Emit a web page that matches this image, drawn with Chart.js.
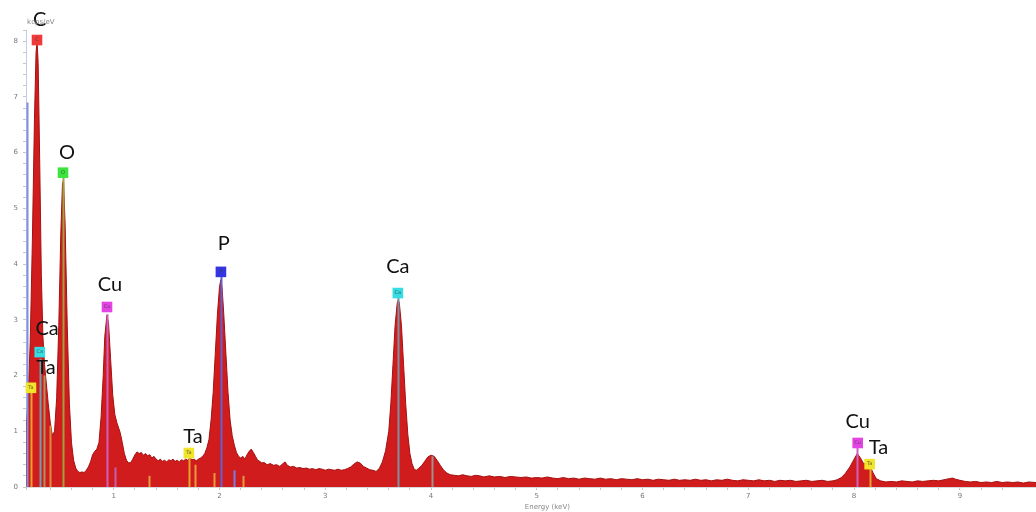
<!DOCTYPE html>
<html>
<head>
<meta charset="utf-8">
<script src="https://cdn.jsdelivr.net/npm/chart.js@4/dist/chart.umd.min.js"></script>
<style>
  html, body { margin: 0; padding: 0; background: #fff; overflow: hidden; }
  #wrap { width: 1036px; height: 512px; position: relative; }
</style>
</head>
<body>
<div id="wrap"><canvas id="eds"></canvas></div>
<script>
// spectrum (keV, kcps/eV)
const energy = [
  0.17, 0.19, 0.21, 0.23, 0.25, 0.265, 0.275, 0.285, 0.30, 0.315, 0.33, 0.345, 0.36, 0.38, 0.40, 0.42, 0.44, 0.46, 0.48, 0.50,
  0.515, 0.525, 0.54, 0.56, 0.58, 0.60, 0.62, 0.64, 0.66, 0.68, 0.70, 0.72, 0.74, 0.76, 0.78, 0.80, 0.82, 0.84, 0.86, 0.88,
  0.90, 0.915, 0.935, 0.95, 0.97, 0.99, 1.01, 1.03, 1.06, 1.08, 1.10, 1.12, 1.14, 1.16, 1.18, 1.20, 1.22, 1.24, 1.26, 1.28,
  1.30, 1.32, 1.34, 1.36, 1.38, 1.40, 1.42, 1.44, 1.46, 1.48, 1.50, 1.52, 1.54, 1.56, 1.58, 1.60, 1.62, 1.64, 1.66, 1.68,
  1.70, 1.72, 1.74, 1.76, 1.78, 1.80, 1.82, 1.84, 1.86, 1.88, 1.90, 1.92, 1.94, 1.96, 1.98, 2.00, 2.013, 2.025, 2.04, 2.06,
  2.08, 2.10, 2.12, 2.14, 2.16, 2.18, 2.20, 2.22, 2.24, 2.26, 2.28, 2.30, 2.32, 2.34, 2.36, 2.38, 2.40, 2.42, 2.45, 2.48,
  2.51, 2.54, 2.57, 2.60, 2.62, 2.64, 2.67, 2.70, 2.73, 2.76, 2.79, 2.82, 2.85, 2.88, 2.91, 2.94, 2.97, 3.00, 3.03, 3.06,
  3.09, 3.12, 3.15, 3.18, 3.21, 3.24, 3.27, 3.30, 3.33, 3.36, 3.39, 3.42, 3.45, 3.48, 3.51, 3.54, 3.57, 3.60, 3.62, 3.64,
  3.66, 3.68, 3.69, 3.70, 3.72, 3.74, 3.76, 3.78, 3.80, 3.82, 3.84, 3.86, 3.88, 3.91, 3.94, 3.97, 4.00, 4.03, 4.06, 4.09,
  4.12, 4.15, 4.18, 4.22, 4.26, 4.30, 4.34, 4.38, 4.42, 4.46, 4.50, 4.55, 4.60, 4.65, 4.70, 4.75, 4.80, 4.85, 4.90, 4.95,
  5.00, 5.05, 5.10, 5.15, 5.20, 5.25, 5.30, 5.35, 5.40, 5.45, 5.50, 5.55, 5.60, 5.65, 5.70, 5.75, 5.80, 5.85, 5.90, 5.95,
  6.00, 6.05, 6.10, 6.15, 6.20, 6.25, 6.30, 6.35, 6.40, 6.45, 6.50, 6.55, 6.60, 6.65, 6.70, 6.75, 6.80, 6.85, 6.90, 6.95,
  7.00, 7.05, 7.10, 7.15, 7.20, 7.25, 7.30, 7.35, 7.40, 7.45, 7.50, 7.55, 7.60, 7.65, 7.70, 7.75, 7.80, 7.84, 7.88, 7.92,
  7.96, 8.00, 8.03, 8.06, 8.09, 8.12, 8.15, 8.18, 8.21, 8.25, 8.30, 8.35, 8.40, 8.45, 8.50, 8.55, 8.60, 8.65, 8.70, 8.75,
  8.80, 8.85, 8.90, 8.93, 8.96, 9.00, 9.05, 9.10, 9.15, 9.20, 9.25, 9.30, 9.35, 9.40, 9.45, 9.50, 9.55, 9.60, 9.65, 9.72
];
const counts = [
  1.0, 1.6, 2.6, 4.4, 6.6, 7.8, 8.0, 7.6, 5.8, 3.8, 2.7, 2.2, 1.9, 1.5, 1.15, 0.92, 1.0, 1.6, 2.9, 4.6,
  5.45, 5.5, 4.7, 2.9, 1.5, 0.8, 0.48, 0.34, 0.28, 0.26, 0.27, 0.26, 0.3, 0.36, 0.45, 0.58, 0.64, 0.68, 0.8, 1.25,
  2.0, 2.7, 3.08, 2.95, 2.3, 1.65, 1.3, 1.15, 0.98, 0.8, 0.6, 0.48, 0.43, 0.44, 0.5, 0.58, 0.63, 0.6, 0.62, 0.57,
  0.6, 0.56, 0.58, 0.52, 0.55, 0.5, 0.47, 0.5, 0.46, 0.48, 0.45, 0.49, 0.47, 0.5, 0.46, 0.48, 0.45, 0.49, 0.47, 0.5,
  0.48, 0.52, 0.49, 0.5, 0.47, 0.5, 0.52, 0.55, 0.6, 0.7, 0.85, 1.2, 1.7, 2.4, 3.1, 3.6, 3.72, 3.55, 3.1, 2.4,
  1.7, 1.2, 0.92, 0.75, 0.62, 0.55, 0.52, 0.55, 0.5, 0.58, 0.64, 0.68, 0.62, 0.55, 0.48, 0.46, 0.43, 0.44, 0.4, 0.42,
  0.39, 0.4, 0.37, 0.42, 0.45, 0.39, 0.36, 0.37, 0.34, 0.35, 0.33, 0.34, 0.32, 0.33, 0.31, 0.33, 0.32, 0.3, 0.32, 0.31,
  0.3, 0.32, 0.3, 0.31, 0.33, 0.36, 0.41, 0.45, 0.43, 0.37, 0.34, 0.31, 0.3, 0.28, 0.33, 0.45, 0.65, 1.0, 1.5, 2.2,
  2.9, 3.3, 3.36, 3.3, 2.9, 2.2, 1.5, 0.95, 0.6, 0.42, 0.32, 0.3, 0.33, 0.38, 0.46, 0.54, 0.57, 0.55, 0.47, 0.38,
  0.3, 0.25, 0.22, 0.21, 0.2, 0.22, 0.2, 0.19, 0.21, 0.2, 0.18, 0.2, 0.18, 0.19, 0.17, 0.19, 0.18, 0.17, 0.18, 0.16,
  0.17, 0.16, 0.18, 0.16, 0.15, 0.17, 0.15, 0.16, 0.14, 0.16, 0.15, 0.14, 0.16, 0.14, 0.15, 0.13, 0.15, 0.14, 0.13, 0.15,
  0.13, 0.14, 0.12, 0.14, 0.13, 0.12, 0.14, 0.12, 0.13, 0.12, 0.14, 0.12, 0.13, 0.11, 0.13, 0.12, 0.14, 0.12, 0.11, 0.13,
  0.12, 0.11, 0.13, 0.11, 0.12, 0.1, 0.12, 0.11, 0.12, 0.1, 0.11, 0.12, 0.1, 0.11, 0.12, 0.1, 0.11, 0.13, 0.17, 0.25,
  0.36, 0.5, 0.6, 0.52, 0.42, 0.43, 0.38, 0.25, 0.15, 0.11, 0.09, 0.1, 0.09, 0.11, 0.1, 0.09, 0.11, 0.1, 0.11, 0.12,
  0.11, 0.13, 0.15, 0.16, 0.14, 0.12, 0.1, 0.09, 0.1, 0.08, 0.09, 0.08, 0.1, 0.08, 0.09, 0.08, 0.09, 0.07, 0.09, 0.08
];

// element id boxes
const markerSymbol = ['C', 'O', 'Cu', 'Ca', 'Ta', 'P', 'Ta', 'Ca', 'Cu', 'Ta'];
const markerEnergy = [0.274, 0.52, 0.936, 0.30, 0.217, 2.013, 1.71, 3.686, 8.034, 8.147];
const markerLevel  = [8.02, 5.64, 3.23, 2.42, 1.78, 3.86, 0.61, 3.48, 0.79, 0.41];
const markerColor  = ['#f03a3a', '#3ee43e', '#e444e4', '#34dce4', '#f2e428', '#3434e0', '#f2e428', '#34dce4', '#e444e4', '#f2e428'];

// big element labels
const labelText   = ['C', 'O', 'Cu', 'Ca', 'Ta', 'P', 'Ta', 'Ca', 'Cu', 'Ta'];
const labelEnergy = [0.30, 0.558, 0.964, 0.369, 0.359, 2.04, 1.749, 3.686, 8.034, 8.23];
const labelLevel  = [8.38, 6.01, 3.63, 2.85, 2.14, 4.36, 0.90, 3.95, 1.18, 0.70];

// thin line markers at the line energies
const lineEnergy = [0.175, 0.217, 0.30, 0.34, 0.40, 0.52, 0.935, 1.01, 1.33, 1.71, 1.77, 1.95, 2.013, 2.14, 2.22, 3.69, 4.01, 8.03, 8.15];
const lineHeight = [6.9, 1.7, 2.3, 2.0, 1.1, 5.6, 3.1, 0.35, 0.2, 0.6, 0.4, 0.25, 3.8, 0.3, 0.2, 3.4, 0.55, 0.7, 0.35];
const lineColor  = ['#8090e0', '#e8a030', '#70a0a8', '#b09060', '#d89040', '#a0a040', '#d060c0', '#c060b0', '#e89a40',
                    '#e8a030', '#e89a40', '#e89a40', '#6060d0', '#7080e0', '#e89a40', '#8090a0', '#a09090', '#d060c0', '#e8a030'];

const spectrum = energy.map((e, i) => ({ x: e, y: counts[i] }));
const markers = markerEnergy.map((e, i) => ({ x: e, y: markerLevel[i] }));

const lineMarks = {
  id: 'lineMarks',
  afterDatasetDraw(chart, args) {
    if (args.index !== 0) return;
    const { ctx, scales: { x, y } } = chart;
    ctx.save();
    ctx.lineWidth = 2;
    lineEnergy.forEach((e, i) => {
      const px = Math.round(x.getPixelForValue(e)) + 0.5;
      ctx.strokeStyle = lineColor[i];
      ctx.beginPath();
      ctx.moveTo(px, y.getPixelForValue(0));
      ctx.lineTo(px, y.getPixelForValue(lineHeight[i]));
      ctx.stroke();
    });
    ctx.restore();
  }
};

const textMarks = {
  id: 'textMarks',
  afterDatasetsDraw(chart) {
    const { ctx, scales: { x, y } } = chart;
    ctx.save();
    ctx.textAlign = 'center';
    ctx.textBaseline = 'middle';
    // tiny symbols inside the boxes
    ctx.font = '5px "DejaVu Sans"';
    ctx.fillStyle = 'rgba(60,60,60,0.8)';
    markerSymbol.forEach((s, i) => {
      ctx.fillText(s, x.getPixelForValue(markerEnergy[i]), y.getPixelForValue(markerLevel[i]));
    });
    ctx.font = '20px Lato';
    ctx.fillStyle = '#111';
    labelText.forEach((t, i) => {
      ctx.fillText(t, x.getPixelForValue(labelEnergy[i]), y.getPixelForValue(labelLevel[i]));
    });
    // axis captions
    ctx.font = '7px "DejaVu Sans"';
    ctx.fillStyle = '#888';
    ctx.fillText('kcps/eV', x.getPixelForValue(0.31), 22);
    ctx.fillText('Energy (keV)', x.getPixelForValue(5.1), 507);
    ctx.restore();
  }
};

const onlyWhole = v => (Math.abs(v - Math.round(v)) < 1e-6 ? String(Math.round(v)) : '');

new Chart(document.getElementById('eds'), {
  type: 'line',
  data: {
    datasets: [
      {
        data: spectrum,
        order: 2,
        fill: 'origin',
        backgroundColor: '#d01c1c',
        borderColor: '#a51010',
        borderWidth: 1,
        pointRadius: 0,
        tension: 0
      },
      {
        data: markers,
        order: 1,
        showLine: false,
        pointStyle: 'rect',
        pointRadius: 7.5,
        pointBackgroundColor: markerColor,
        pointBorderWidth: 0,
        clip: false
      }
    ]
  },
  options: {
    responsive: true,
    maintainAspectRatio: false,
    animation: false,
    events: [],
    layout: { autoPadding: false, padding: { top: 30, right: 0, left: 0, bottom: 0 } },
    plugins: { legend: { display: false }, tooltip: { enabled: false } },
    scales: {
      x: {
        type: 'linear',
        min: 0.17,
        max: 9.72,
        afterFit: s => { s.height = 25; s.paddingRight = 0; s.paddingLeft = 0; },
        border: { color: '#d8d8d8' },
        grid: { drawOnChartArea: false, drawTicks: true, tickLength: 3, color: '#c8c8c8' },
        ticks: {
          stepSize: 0.2,
          autoSkip: false,
          maxRotation: 0,
          padding: 2,
          color: '#777',
          font: { size: 7, family: 'DejaVu Sans' },
          callback: onlyWhole
        }
      },
      y: {
        min: 0,
        max: 8.2,
        afterFit: s => { s.width = 26; s.paddingTop = 0; s.paddingBottom = 0; },
        border: { color: '#c4cbe8' },
        grid: { drawOnChartArea: false, drawTicks: true, tickLength: 3, color: '#c8c8c8' },
        ticks: {
          stepSize: 0.2,
          autoSkip: false,
          padding: 5,
          color: '#777',
          font: { size: 7, family: 'DejaVu Sans' },
          callback: onlyWhole
        }
      }
    }
  },
  plugins: [lineMarks, textMarks]
});
</script>
</body>
</html>
